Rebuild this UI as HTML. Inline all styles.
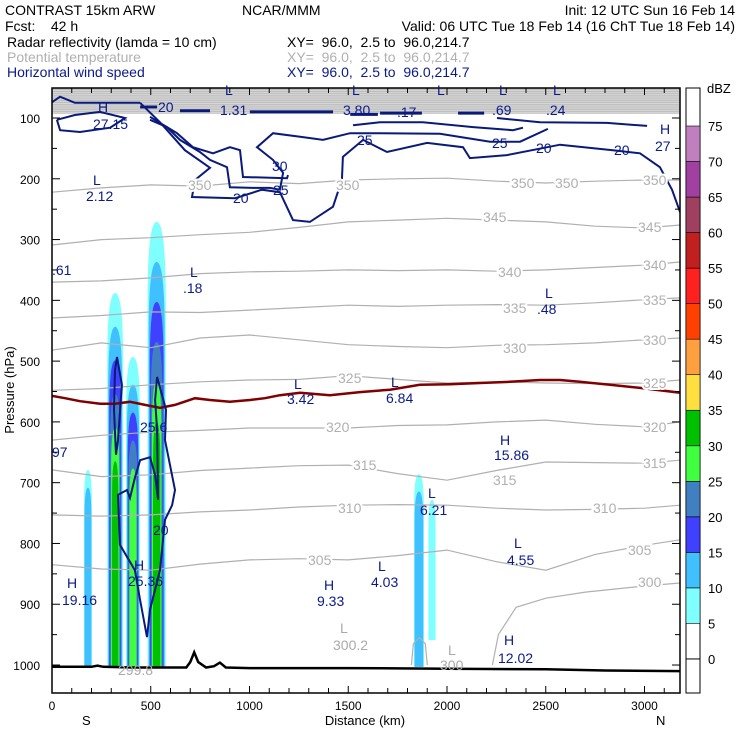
<!DOCTYPE html>
<html><head><meta charset="utf-8">
<style>
html,body{margin:0;padding:0;background:#fff;}
svg{display:block;font-family:"Liberation Sans",sans-serif;}
text{white-space:pre;}
.hd{font-size:14px;}
.nv{fill:#0a1a8a;font-size:14px;}
.gy{fill:#aaa;font-size:14px;}
.tl{fill:#b0b0b0;font-size:14px;stroke:#fff;stroke-width:4px;paint-order:stroke;}
</style></head>
<body>
<svg id="chart" width="740" height="740" viewBox="0 0 740 740" xmlns="http://www.w3.org/2000/svg" xml:space="preserve">
<g class="hd">
<text x="5" y="15">CONTRAST 15km ARW</text>
<text x="242" y="15">NCAR/MMM</text>
<text x="735" y="15" text-anchor="end">Init: 12 UTC Sun 16 Feb 14</text>
<text x="5" y="31">Fcst:    42 h</text>
<text x="735" y="31" text-anchor="end">Valid: 06 UTC Tue 18 Feb 14 (16 ChT Tue 18 Feb 14)</text>
<text x="7" y="47">Radar reflectivity (lamda = 10 cm)</text>
<text x="287" y="47">XY=  96.0,  2.5 to  96.0,214.7</text>
<text x="7" y="62" fill="#b0b0b0">Potential temperature</text>
<text x="287" y="62" fill="#b0b0b0">XY=  96.0,  2.5 to  96.0,214.7</text>
<text x="7" y="77" fill="#0a1a8a">Horizontal wind speed</text>
<text x="287" y="77" fill="#0a1a8a">XY=  96.0,  2.5 to  96.0,214.7</text>
</g>
<g id="plot"></g>
<g id="labels">
<g class="tl">
<text x="188" y="190">350</text><text x="336" y="190">350</text><text x="511" y="188">350</text><text x="555" y="188">350</text><text x="643" y="185">350</text>
<text x="483" y="222">345</text><text x="638" y="232">345</text>
<text x="498" y="277">340</text><text x="643" y="270">340</text>
<text x="503" y="313">335</text><text x="643" y="305">335</text>
<text x="503" y="353">330</text><text x="643" y="345">330</text>
<text x="338" y="383">325</text><text x="643" y="388">325</text>
<text x="326" y="432">320</text><text x="643" y="432">320</text>
<text x="353" y="470">315</text><text x="493" y="485">315</text><text x="643" y="468">315</text>
<text x="338" y="513">310</text><text x="593" y="513">310</text>
<text x="308" y="565">305</text><text x="628" y="555">305</text>
<text x="638" y="587">300</text>
</g>
<g class="nv">
<text x="98" y="112">H</text><text x="93" y="129">27.15</text>
<text x="93" y="185">L</text><text x="86" y="201">2.12</text>
<text x="190" y="277">L</text><text x="183" y="293">.18</text>
<text x="52" y="275">.61</text>
<text x="545" y="298">L</text><text x="537" y="314">.48</text>
<text x="294" y="389">L</text><text x="287" y="404">3.42</text>
<text x="391" y="387">L</text><text x="386" y="403">6.84</text>
<text x="140" y="432">25.6</text>
<text x="500" y="445">H</text><text x="494" y="460">15.86</text>
<text x="52" y="457">97</text>
<text x="428" y="498">L</text><text x="420" y="515">6.21</text>
<text x="153" y="535">20</text>
<text x="514" y="548">L</text><text x="507" y="565">4.55</text>
<text x="134" y="570">H</text><text x="128" y="586">25.36</text>
<text x="67" y="588">H</text><text x="62" y="605">19.16</text>
<text x="378" y="571">L</text><text x="371" y="587">4.03</text>
<text x="324" y="590">H</text><text x="317" y="606">9.33</text>
<text x="504" y="645">H</text><text x="498" y="663">12.02</text>
<text x="158" y="112">20</text><text x="220" y="115">1.31</text>
<text x="343" y="115">3.80</text><text x="397" y="117">.17</text>
<text x="492" y="115">.69</text><text x="546" y="115">.24</text>
<text x="225" y="95">L</text><text x="352" y="95">L</text><text x="437" y="95">L</text><text x="499" y="95">L</text><text x="553" y="95">L</text>
<text x="357" y="145">25</text><text x="492" y="148">25</text><text x="272" y="171">30</text>
<text x="273" y="195">25</text><text x="233" y="203">20</text><text x="536" y="153">20</text><text x="614" y="155">20</text>
<text x="660" y="134">H</text><text x="655" y="151">27</text>
</g>
<g class="gy">
<text x="340" y="633">L</text><text x="333" y="650">300.2</text>
<text x="448" y="655">L</text><text x="440" y="670">300</text>
<text x="118" y="675">299.8</text>
</g>
</g>
<g style="font-size:13px">
<text transform="translate(14,390) rotate(-90)" text-anchor="middle">Pressure (hPa)</text>
<text x="365" y="725" text-anchor="middle">Distance (km)</text>
<text x="82" y="725">S</text>
<text x="656" y="725">N</text>
<text x="707" y="93">dBZ</text>
</g>
</svg>
<script>
// ===== data =====
const xTicks = [0,500,1000,1500,2000,2500,3000];
const yTicks = [100,200,300,400,500,600,700,800,900,1000];
const dbzLevels = [5,10,15,20,25,30,35,40,45,50,55,60,65,70];
const dbzColors = ["#80ffff","#40c0ff","#4040ff","#4080c0","#40ff40","#00c000","#ffe040","#ffa040","#ff4000","#ff2020","#c02020","#a04060","#a040a0","#c080c0"];
const cbLabels = [0,5,10,15,20,25,30,35,40,45,50,55,60,65,70,75];

const thetaKm = [0,250,500,750,1000,1250,1500,1750,2000,2250,2500,2750,3000,3180];
const thetaValues = [350,345,340,335,330,325,320,315,310,305];
const th350 = [222,215,210,212,205,208,202,200,199,204,207,204,202,202];
const th345 = [309,300,297,292,288,280,271,268,265,268,271,278,281,276];
const th340 = [370,368,363,356,353,352,350,351,350,352,350,346,342,337];
const th335 = [429,425,419,420,416,412,408,410,408,407,408,404,399,396];
const th330 = [482,470,478,462,457,465,473,476,478,474,473,470,465,462];
const th325 = [548,545,539,534,531,530,524,530,536,534,536,537,536,531];
const th320 = [630,622,617,614,610,610,610,606,605,600,597,604,608,600];
const th315 = [679,690,687,680,676,672,671,685,696,680,666,667,668,663];
const th310 = [753,755,753,748,745,740,737,736,737,742,745,744,742,737];
const th305 = [835,842,844,834,827,825,827,820,811,830,844,818,803,794];
const th300Km = [2230,2260,2350,2500,2700,3000,3180];
const th300 = [1000,950,905,890,880,870,865];
const th300bKm = [1820,1830,1860,1890,1900];
const th300b = [1000,965,955,965,1000];
const topBandLevels = [55,58,61,64,67,70,73,76,79,82,85,88,91];

const terrainKm = [0,200,230,260,400,600,680,700,720,740,780,820,850,880,1000,1500,2000,2500,2800,3180];
const terrainP = [1003,1003,1001,1003,1004,1004,1004,995,979,995,1004,1002,996,1004,1005,1005,1006,1007,1009,1010];

const frzKm = [0,66,142,243,319,395,471,547,623,724,800,901,1002,1078,1154,1256,1407,1559,1711,1863,2015,2167,2319,2471,2572,2673,2825,2977,3180];
const frzP = [557,561,566,570,570,567,572,577,572,561,564,567,564,561,556,552,556,551,547,539,538,536,534,531,531,534,539,544,552];

// convective columns
const colKm = [320,410,530,182,1858,1924];
const colTopP = [388,493,271,679,686,728];
const colBotP = [1003,1003,1003,1003,1003,959];
const colMax = [30,25,30,10,10,5];
const colHalfKm = [40,35,46,20,25,18];

// wind speed contours (km, hPa)
const w20Km = [446,547,673,800,724,709,927,1063,1154,1220,1306,1423,1468,1473,1575,1696,1899,2081,2116,2304,2572,2840,2977,3078,3139,3180];
const w20P  = [75,107,153,182,202,230,232,218,222,268,271,246,202,164,136,156,141,148,166,161,144,153,158,181,218,255];
const w30Km = [496,633,714,815,901,952,967,1190,1195];
const w30P  = [98,125,148,158,148,153,197,199,194];
const w25Km = [496,582,648,749,800,886,901,1018,1104,1154,1170,1119,1038,1119,1256,1372,1509,1661,1964,2218,2370,2511];
const w25P  = [103,115,136,156,169,181,214,215,215,218,190,169,148,125,131,136,125,125,126,139,139,118];
const wUpKm = [1524,1661,1878,2132,2334,2385];
const wUpP  = [112,107,107,115,120,116];
const wTopKm = [2253,2471,2810,3013];
const wTopP  = [100,107,108,113];
const wLoopKm = [25,116,243,370,294,142,41,25];
const wLoopP  = [103,95,90,100,116,123,120,103];
const wEdgeKm = [0,41,116,218,446];
const wEdgeP  = [74,65,75,75,75];
const wBarStart = [446,648,1002,1661,2056,1510];
const wBarEnd   = [532,800,1423,1873,2188,1650];
const wBarP     = [82,88,90,92,92,94];
const wL1Km = [329,354,334,324,314,319,329];
const wL1P  = [493,539,630,654,580,515,493];
const wL2Km = [532,577,572,623,608,572,547,496,481,446,420,344,334,380,395,420,446,496,522,537,532,522,532];
const wL2P  = [526,580,630,712,737,761,844,909,954,893,844,802,720,712,725,692,663,658,687,728,613,564,526];

// ===== axes =====
const X0=52, X1=680, Y0=88, Y1=693;
const kmScale = 0.1975, pScale = 0.6078;
function xs(km){ return X0 + km*kmScale; }
function ys(p){ return 118 + (p-100)*pScale; }
const NS="http://www.w3.org/2000/svg";
const plot=document.getElementById('plot');
function mk(tag, attrs, parent){ const e=document.createElementNS(NS,tag); for(const k in attrs) e.setAttribute(k,attrs[k]); (parent||plot).appendChild(e); return e; }
function pts(kms, ps){ return kms.map((k,i)=>xs(k).toFixed(1)+","+ys(ps[i]).toFixed(1)).join(" "); }

const defs=mk('defs',{});
const cp=mk('clipPath',{id:'clip'},defs);
mk('rect',{x:X0,y:Y0,width:X1-X0,height:Y1-Y0},cp);
const g=mk('g',{'clip-path':'url(#clip)'});



const band=mk('rect',{x:X0,y:ys(50),width:X1-X0,height:ys(93)-ys(50),fill:'#bdbdbd'},g);


topBandLevels.forEach(p=>{
  const l=mk('line',{x1:X0,x2:X1,y1:ys(p),y2:ys(p),stroke:'#dcdcdc','stroke-width':0.8},g);
  
  
});

colKm.forEach((c,ci)=>{
  const nLayers = colMax[ci]/5;
  for(let i=0;i<nLayers;i++){
    const top = colTopP[ci] + (colBotP[ci]-colTopP[ci])*(i*0.09);
    const hw = colHalfKm[ci]*(1-i*0.12);
    const xl=xs(c-hw), xr=xs(c+hw), xc=xs(c), yt=ys(top), yb=ys(colBotP[ci]);
    const sh=(yb-yt)*0.18;
    const d=`M${xl},${yb} L${xl},${yt+sh} Q${xl},${yt} ${xc},${yt} Q${xr},${yt} ${xr},${yt+sh} L${xr},${yb} Z`;
    const p=mk('path',{d:d,fill:dbzColors[i]},g);
    
    
  }
});

const thetaSeries=[th350,th345,th340,th335,th330,th325,th320,th315,th310,th305];
thetaSeries.forEach((s,i)=>{
  const l=mk('polyline',{points:pts(thetaKm,s),fill:'none',stroke:'#b0b0b0','stroke-width':1.2},g);
  
  
});
const t300=mk('polyline',{points:pts(th300Km,th300),fill:'none',stroke:'#b0b0b0','stroke-width':1.2},g);


const t300b=mk('polyline',{points:pts(th300bKm,th300b),fill:'none',stroke:'#b0b0b0','stroke-width':1.2},g);



const frz=mk('polyline',{points:pts(frzKm,frzP),fill:'none',stroke:'#800000','stroke-width':2.5},g);



const windSets=[[w20Km,w20P,'wind-contour-20'],[w30Km,w30P,'wind-contour-30'],[w25Km,w25P,'wind-contour-25'],[wUpKm,wUpP,'wind-contour-upper'],[wTopKm,wTopP,'wind-contour-top'],[wLoopKm,wLoopP,'wind-contour-loop'],[wEdgeKm,wEdgeP,'wind-contour-edge'],[wL1Km,wL1P,'wind-contour-low-1'],[wL2Km,wL2P,'wind-contour-low-2']];
windSets.forEach(s=>{
  const l=mk('polyline',{points:pts(s[0],s[1]),fill:'none',stroke:'#0a1a7a','stroke-width':2},g);
  
  
});
wBarStart.forEach((s,i)=>{
  const l=mk('line',{x1:xs(s),x2:xs(wBarEnd[i]),y1:ys(wBarP[i]),y2:ys(wBarP[i]),stroke:'#0a1a7a','stroke-width':3},g);
  
  
});

const ter=mk('polyline',{points:pts(terrainKm,terrainP),fill:'none',stroke:'#000','stroke-width':2.5},g);



const fr=mk('rect',{x:X0,y:Y0,width:X1-X0,height:Y1-Y0,fill:'none',stroke:'#000','stroke-width':1.5});



for(let k=0;k<=3100;k+=100){
  const major = k%500===0;
  const len = major?7:5;
  const t1=mk('line',{x1:xs(k),x2:xs(k),y1:Y1,y2:Y1-len,stroke:'#000'});
  
  
  const t2=mk('line',{x1:xs(k),x2:xs(k),y1:Y0,y2:Y0+len,stroke:'#000'});
  
  
}
xTicks.forEach(k=>{
  const t=mk('text',{x:xs(k),y:710,'text-anchor':'middle','font-size':12});
  t.textContent=k;
  
  
});
for(let p=100;p<=1000;p+=50){
  const len = p%100===0?8:5;
  const a=mk('line',{x1:X0,x2:X0+len,y1:ys(p),y2:ys(p),stroke:'#000'});
  
  
  const b=mk('line',{x1:X1,x2:X1-len,y1:ys(p),y2:ys(p),stroke:'#000'});
  
  
}
yTicks.forEach(p=>{
  const t=mk('text',{x:40,y:ys(p)+5,'text-anchor':'end','font-size':12});
  t.textContent=p;
  
  
});

const CB0=126, CBstep=35.53;
function cbY(v){ return CB0 + (75-v)/5*CBstep; }
const cbBg=mk('rect',{x:686,y:Y0,width:14,height:Y1-Y0,fill:'#fff',stroke:'#000'});


dbzLevels.forEach((v,i)=>{
  const r=mk('rect',{x:686,y:cbY(v+5),width:14,height:cbY(v)-cbY(v+5),fill:dbzColors[i],stroke:'#000','stroke-width':0.6});
  
  
});
const cbl=mk('line',{x1:686,x2:700,y1:cbY(0),y2:cbY(0),stroke:'#000'});


cbLabels.forEach(v=>{
  const t=mk('text',{x:708,y:cbY(v)+5,'font-size':13});
  t.textContent=v;
  
  
});
const svg=document.getElementById('chart');
svg.appendChild(document.getElementById('labels'));
</script>
</body></html>
